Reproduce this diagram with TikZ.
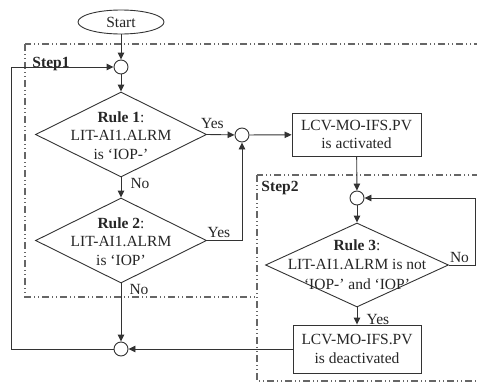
\documentclass[tikz,border=0pt]{standalone}
\usepackage{fontspec}
\setmainfont{Liberation Serif}
\usetikzlibrary{shapes.geometric,arrows.meta}
\begin{document}
\begin{tikzpicture}[x=1pt,y=-1pt,
  every node/.style={font=\fontsize{15.5}{18.5}\selectfont, text=black!85},
  ln/.style={draw=black!80, line width=0.9pt},
  arr/.style={ln, -{Triangle[length=7pt,width=6.5pt]}},
  junc/.style={circle, draw=black!80, line width=0.9pt, fill=white, minimum size=14pt, inner sep=0pt},
  dia/.style={diamond, draw=black!80, line width=0.9pt, inner sep=0pt},
  pbox/.style={rectangle, draw=black!80, line width=0.9pt, inner sep=0pt, align=center},
  stepframe/.style={draw=black!60, line width=1.2pt, dash pattern=on 7pt off 3pt on 1pt off 3pt on 1pt off 3pt},
  lbl/.style={inner sep=0pt}
]
\useasboundingbox (0,0) rectangle (477,383);
\clip (0,0) rectangle (477,383);
\fill[white] (0,0) rectangle (477,383);

% step frames
\draw[stepframe] (25,44) rectangle (495,297);
\draw[stepframe, fill=white] (257,175) rectangle (495,381);
\node[lbl, font=\fontsize{15.5}{18.5}\selectfont\bfseries] (s1) at (51,64) {Step1};
\node[lbl, font=\fontsize{15.5}{18.5}\selectfont\bfseries] (s2) at (280,188) {Step2};

% nodes
\node[ellipse, draw=black!80, line width=0.9pt, minimum width=86pt, minimum height=24pt, inner sep=0pt] (start) at (121,22) {Start};
\node[junc] (c1) at (121,67) {};
\node[dia, minimum width=171pt, minimum height=85pt] (d1) at (121,134.5) {};
\node[lbl, align=center] (d1t) at (121,135.5) {\textbf{Rule 1}:\\LIT-AI1.ALRM\\is ‘IOP-’};
\node[dia, minimum width=171pt, minimum height=85pt] (d2) at (121,240.5) {};
\node[lbl, align=center] (d2t) at (121,241.5) {\textbf{Rule 2}:\\LIT-AI1.ALRM\\is ‘IOP’};
\node[junc] (c2) at (242,135) {};
\node[pbox, minimum width=129pt, minimum height=43pt] (b1) at (356.5,134.5) {LCV-MO-IFS.PV\\is activated};
\node[junc] (c4) at (357,198) {};
\node[dia, minimum width=183pt, minimum height=84pt] (d3) at (357,265) {};
\node[lbl, align=center, font=\fontsize{15.5}{19.5}\selectfont] (d3t) at (357,264.5) {\textbf{Rule 3}:\\LIT-AI1.ALRM is not\\‘IOP-’ and ‘IOP’};
\node[pbox, minimum width=128pt, minimum height=48pt] (b2) at (357,349) {LCV-MO-IFS.PV\\is deactivated};
\node[junc] (c3) at (121,349) {};

\coordinate (r3) at (475.5,265);
\coordinate (lp) at (11,349);

% connectors
\draw[arr] (start) -- (c1);
\draw[arr] (c1) -- (d1.north);
\draw[arr] (d1.east) -- (c2);
\draw[arr] (d1.south) -- (d2.north);
\draw[arr] (d2.east) -| (c2.south);
\draw[arr] (c2) -- (b1);
\draw[arr] (b1) -- (c4);
\draw[arr] (c4) -- (d3.north);
\draw[arr] (d3.south) -- (b2);
\draw[arr] (d3.east) -- (r3) |- (c4.east);
\draw[arr] (b2) -- (c3);
\draw[arr] (d2.south) -- (c3);
\draw[arr] (c3.west) -- (lp) |- (c1.west);

% labels
\node[lbl] (y1) at (212.5,123) {Yes};
\node[lbl] (n1) at (140,183) {No};
\node[lbl] (y2) at (219,232) {Yes};
\node[lbl] (n2) at (139,289) {No};
\node[lbl] (n3) at (459.5,257) {No};
\node[lbl] (y3) at (378,319) {Yes};
\end{tikzpicture}
\end{document}
